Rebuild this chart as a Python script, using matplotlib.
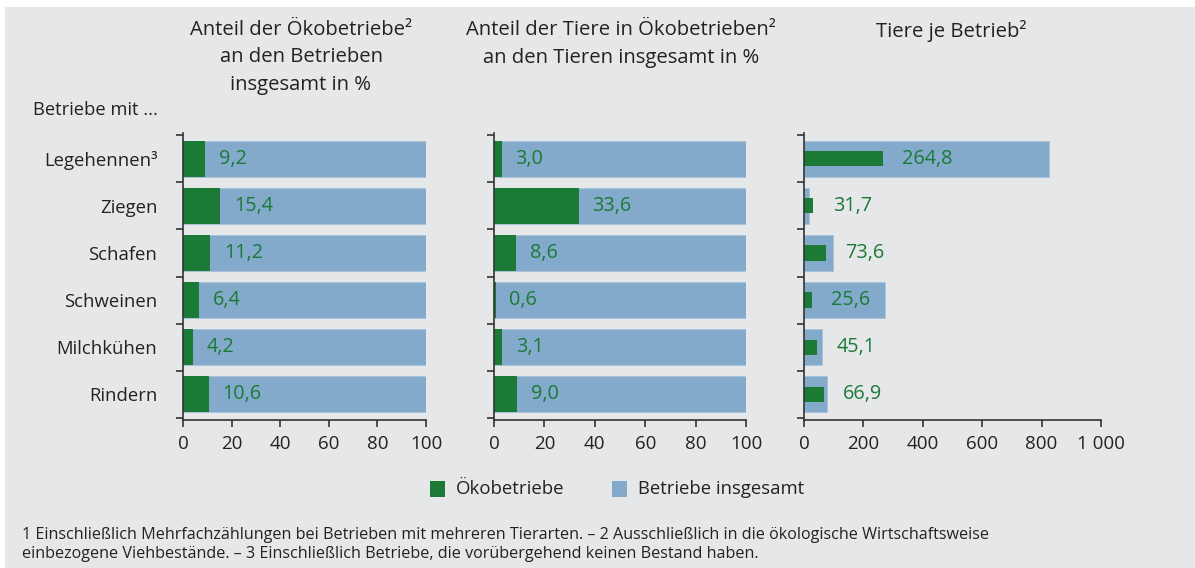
import numpy as np
import matplotlib.pyplot as plt
from matplotlib.patches import Rectangle

plt.rcParams['font.family'] = ['Open Sans', 'DejaVu Sans']

categories = ['Legehennen³', 'Ziegen', 'Schafen', 'Schweinen', 'Milchkühen', 'Rindern']

# Anteil der Ökobetriebe an den Betrieben insgesamt in %
share_farms = [9.2, 15.4, 11.2, 6.4, 4.2, 10.6]
# Anteil der Tiere in Ökobetrieben an den Tieren insgesamt in %
share_animals = [3.0, 33.6, 8.6, 0.6, 3.1, 9.0]
# Tiere je Betrieb
per_farm_eco = [264.8, 31.7, 73.6, 25.6, 45.1, 66.9]
per_farm_all = [826, 16, 96, 274, 62, 79]

titles = ['Anteil der Ökobetriebe²\nan den Betrieben\ninsgesamt in %',
          'Anteil der Tiere in Ökobetrieben²\nan den Tieren insgesamt in %',
          'Tiere je Betrieb²']

green = '#1b7a36'
blue = '#83aacb'
bg = '#e6e7e9'
txt = '#222222'
W, H = 1195, 568

fig = plt.figure(figsize=(W / 100, H / 100), dpi=100, facecolor='white')
fig.patches.append(Rectangle((5 / W, 0), 1 - 5 / W, (H - 7) / H,
                             transform=fig.transFigure, facecolor=bg,
                             edgecolor='none', zorder=-10))


def fmt(v):
    return f'{v:.1f}'.replace('.', ',')


def px_axes(x0, x1, y0=133, y1=420):
    return fig.add_axes([x0 / W, (H - y1) / H, (x1 - x0) / W, (y1 - y0) / H])


y = np.arange(len(categories))
panels = [
    (183, 426, share_farms, [100] * 6, 100, 0.76, [0, 20, 40, 60, 80, 100], None, 10),
    (494, 746, share_animals, [100] * 6, 100, 0.76, [0, 20, 40, 60, 80, 100], None, 10),
    (804, 1101, per_farm_eco, per_farm_all, 1000, 0.32, [0, 200, 400, 600, 800, 1000],
     ['0', '200', '400', '600', '800', '1 000'], 14),
]
title_x = [301, 621, 951]

for i, (x0, x1, eco, total, xmax, h_eco, xt, xtl, off) in enumerate(panels):
    ax = px_axes(x0, x1)
    ax.set_facecolor('none')
    ax.barh(y, total, height=0.75, color=blue, edgecolor='#a9c3da', linewidth=0.6)
    ax.barh(y, eco, height=h_eco, color=green, linewidth=0)
    for yi, v in zip(y, eco):
        ax.annotate(fmt(v), (v, yi), xytext=(off, 0), textcoords='offset points',
                    va='center', ha='left', color=green, fontsize=14.3)
    ax.set_xlim(0, xmax)
    ax.set_ylim(5.55, -0.55)
    ax.set_xticks(xt)
    if xtl:
        ax.set_xticklabels(xtl)
    ax.set_yticks(np.arange(-0.5, 6.0, 1.0))
    ax.set_yticklabels([])
    ax.set_yticks(y, minor=True)
    ax.tick_params(axis='y', which='minor', length=0)
    if i == 0:
        ax.set_yticklabels(categories, minor=True, fontsize=13.3, color=txt)
        ax.tick_params(axis='y', which='minor', pad=18.5)
    ax.tick_params(axis='y', which='major', length=5, width=1.2, color='#333333', direction='out')
    ax.tick_params(axis='x', length=5, width=1.2, color='#333333', labelsize=13.5,
                   labelcolor=txt, pad=6)
    for s in ['top', 'right']:
        ax.spines[s].set_visible(False)
    for s in ['left', 'bottom']:
        ax.spines[s].set_color('#333333')
        ax.spines[s].set_linewidth(1.2)
    fig.text(title_x[i] / W, 1 - 20 / H, titles[i], ha='center', va='top',
             fontsize=14.6, color=txt, linespacing=1.5)

fig.text(33 / W, 1 - 110 / H, 'Betriebe mit ...', ha='left', va='center',
         fontsize=13.2, color=txt)

# Legende
fig.patches.append(Rectangle((430 / W, 1 - 497 / H), 15 / W, 16 / H,
                             transform=fig.transFigure, facecolor=green, edgecolor='none'))
fig.text(456 / W, 1 - 489 / H, 'Ökobetriebe', ha='left', va='center', fontsize=13.4, color=txt)
fig.patches.append(Rectangle((612 / W, 1 - 497 / H), 15 / W, 16 / H,
                             transform=fig.transFigure, facecolor=blue, edgecolor='none'))
fig.text(638 / W, 1 - 489 / H, 'Betriebe insgesamt', ha='left', va='center', fontsize=13.3, color=txt)

fig.text(22 / W, 1 - 527 / H,
         '1 Einschließlich Mehrfachzählungen bei Betrieben mit mehreren Tierarten. – 2 Ausschließlich in die ökologische Wirtschaftsweise\n'
         'einbezogene Viehbestände. – 3 Einschließlich Betriebe, die vorübergehend keinen Bestand haben.',
         ha='left', va='top', fontsize=11.6, color=txt, linespacing=1.22)

fig.savefig('out.png', dpi=100, facecolor='white')
